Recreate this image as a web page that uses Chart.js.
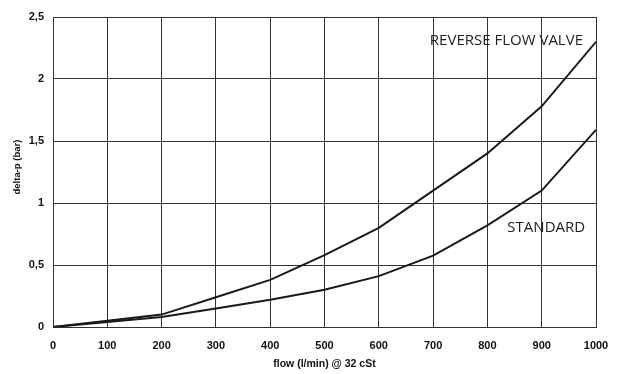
<!DOCTYPE html>
<html><head><meta charset="utf-8">
<script src="https://cdn.jsdelivr.net/npm/chart.js@4/dist/chart.umd.min.js"></script>
<style>html,body{margin:0;padding:0;background:#fff}#wrap{width:626px;height:374px}</style>
</head><body><div id="wrap"><canvas id="c" width="626" height="374"></canvas></div>
<script>
const flow = [0, 100, 200, 300, 400, 500, 600, 700, 800, 900, 1000];
const reverseFlowValve = [0, 0.05, 0.10, 0.24, 0.38, 0.58, 0.80, 1.10, 1.40, 1.78, 2.30];
const standard = [0, 0.04, 0.08, 0.15, 0.22, 0.30, 0.41, 0.575, 0.82, 1.10, 1.59];
const seriesLabels = ["REVERSE FLOW VALVE", "STANDARD"];
const yTickLabels = {0:"0",0.5:"0,5",1:"1",1.5:"1,5",2:"2",2.5:"2,5"};
const xTitle = "flow (l/min) @ 32 cSt";
const yTitle = "delta-p (bar)";

const pts = (ys) => flow.map((x,i)=>({x, y: ys[i]}));

const labelPlugin = {
  id: 'lbl',
  afterDatasetsDraw(chart) {
    const {ctx, scales:{x, y}} = chart;
    ctx.save();
    ctx.fillStyle = '#222';
    ctx.font = '15px "Open Sans"';
    ctx.textAlign = 'right';
    ctx.textBaseline = 'middle';
    ctx.fillText(seriesLabels[0], x.getPixelForValue(976), y.getPixelForValue(2.31));
    ctx.fillText(seriesLabels[1], x.getPixelForValue(980), y.getPixelForValue(0.80));
    ctx.restore();
    ctx.save();
    ctx.fillStyle = '#111';
    ctx.font = 'bold 9.5px "Liberation Sans"';
    ctx.textAlign = 'center';
    ctx.textBaseline = 'middle';
    ctx.translate(17, y.getPixelForValue(1.29));
    ctx.rotate(-Math.PI/2);
    ctx.fillText(yTitle, 0, 0);
    ctx.restore();
  }
};

new Chart(document.getElementById('c'), {
  type: 'line',
  data: { datasets: [
    { label: seriesLabels[0], data: pts(reverseFlowValve), borderColor: '#1a1a1a', borderWidth: 2, pointRadius: 0, tension: 0, fill: false },
    { label: seriesLabels[1], data: pts(standard), borderColor: '#1a1a1a', borderWidth: 2, pointRadius: 0, tension: 0, fill: false }
  ]},
  options: {
    responsive: false, animation: false, devicePixelRatio: 1,
    layout: { padding: { left: 0, right: 30, top: 17, bottom: 0 } },
    plugins: { legend: { display: false }, tooltip: { enabled: false } },
    scales: {
      x: {
        type: 'linear', min: 0, max: 1000,
        ticks: { stepSize: 100, color: '#111', font: { family: 'Liberation Sans', size: 11, weight: 'bold' }, padding: 12, maxRotation: 0, callback: v => String(v) },
        grid: { color: '#333', lineWidth: 1, drawTicks: false },
        border: { color: '#333', width: 1 },
        title: { display: true, text: xTitle, color: '#111', font: { family: 'Liberation Sans', size: 10.5, weight: 'bold' }, padding: { top: 5 } },
        afterFit: s => { s.height = 47; }
      },
      y: {
        min: 0, max: 2.5,
        ticks: { stepSize: 0.5, color: '#111', font: { family: 'Liberation Sans', size: 11, weight: 'bold' }, padding: 9, callback: v => yTickLabels[v] },
        grid: { color: '#333', lineWidth: 1, drawTicks: false },
        border: { color: '#333', width: 1 },
        afterFit: s => { s.width = 53; }
      }
    }
  },
  plugins: [labelPlugin]
});
</script></body></html>
